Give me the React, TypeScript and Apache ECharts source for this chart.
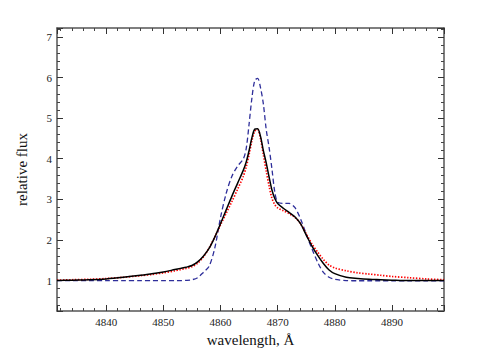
import React, { useEffect, useRef } from "react";
import * as echarts from "echarts";

const wavelengths = [
  4831.4, 4834, 4837, 4840, 4843, 4846, 4848, 4850, 4852, 4853, 4854, 4855, 4856, 4857, 4858,
  4859, 4860, 4861, 4862, 4863, 4864, 4864.5, 4865, 4865.5, 4866, 4866.5, 4867, 4867.5, 4868,
  4868.5, 4869, 4869.5, 4870, 4871, 4872, 4873, 4874, 4875, 4876, 4877, 4878, 4879, 4880, 4882,
  4884, 4886, 4888, 4890, 4893, 4896, 4899.1,
];

const observedFlux = [
  1.0, 1.01, 1.02, 1.04, 1.08, 1.13, 1.17, 1.21, 1.27, 1.3, 1.33, 1.37, 1.46, 1.6, 1.79,
  2.07, 2.4, 2.74, 3.08, 3.4, 3.72, 3.92, 4.2, 4.52, 4.73, 4.74, 4.55, 4.2, 3.9,
  3.55, 3.23, 3.02, 2.9, 2.78, 2.68, 2.57, 2.4, 2.12, 1.85, 1.62, 1.42, 1.26, 1.17, 1.08,
  1.05, 1.03, 1.02, 1.01, 1.0, 1.0, 1.0,
];

const modelRedFlux = [
  1.01, 1.02, 1.03, 1.05, 1.08, 1.12, 1.15, 1.19, 1.24, 1.27, 1.3, 1.34, 1.43, 1.58, 1.8,
  2.07, 2.37, 2.66, 2.95, 3.25, 3.57, 3.8, 4.1, 4.45, 4.68, 4.72, 4.5, 4.1, 3.7,
  3.33, 3.03, 2.87, 2.79, 2.72, 2.65, 2.56, 2.4, 2.15, 1.9, 1.7, 1.52, 1.38, 1.31, 1.24,
  1.19, 1.16, 1.13, 1.1, 1.07, 1.04, 1.02,
];

const modelBlueFlux = [
  1.0, 1.0, 1.0, 1.0, 1.0, 1.0, 1.0, 1.0, 1.0, 1.0, 1.005, 1.02, 1.07, 1.2, 1.35,
  1.8, 2.55, 3.15, 3.57, 3.82, 4.0, 4.25, 4.85, 5.5, 5.93, 5.98, 5.75, 5.35, 4.72,
  4.28, 3.75, 3.18, 2.93, 2.9, 2.9, 2.8, 2.52, 2.14, 1.78, 1.45, 1.2, 1.08, 1.03, 1.0,
  0.995, 0.995, 0.995, 0.995, 0.995, 0.995, 0.995,
];

const X_MIN = 4831.4;
const X_MAX = 4899.1;
const Y_MIN = 0.25;
const Y_MAX = 7.22;

const FONT = "Liberation Serif";

function pairs(ys: number[]) {
  return wavelengths.map((x, i) => [x, ys[i]]);
}

function xAxisCfg(main: boolean): any {
  return {
    type: "value",
    position: main ? "bottom" : "top",
    min: X_MIN,
    max: X_MAX,
    minInterval: 10,
    maxInterval: 10,
    name: main ? "wavelength, Å" : "",
    nameLocation: "middle",
    nameGap: 21,
    nameTextStyle: { fontFamily: FONT, fontSize: 15, color: "#111" },
    axisLine: { show: true, onZero: false, lineStyle: { color: "#555", width: 1.5 } },
    axisTick: { show: true, inside: true, length: 6, lineStyle: { color: "#333", width: 1 } },
    minorTick: { show: true, splitNumber: 5, length: 3, lineStyle: { color: "#444", width: 1 } },
    axisLabel: {
      show: main,
      showMinLabel: false,
      showMaxLabel: false,
      margin: 5,
      fontFamily: FONT,
      fontSize: 11,
      color: "#222",
      formatter: (v: number) => String(Math.round(v)),
    },
    splitLine: { show: false },
  };
}

function yAxisCfg(main: boolean): any {
  return {
    type: "value",
    position: main ? "left" : "right",
    min: Y_MIN,
    max: Y_MAX,
    minInterval: 1,
    maxInterval: 1,
    name: main ? "relative flux" : "",
    nameLocation: "middle",
    nameGap: 28,
    nameTextStyle: { fontFamily: FONT, fontSize: 15, color: "#111" },
    axisLine: { show: true, onZero: false, lineStyle: { color: "#555", width: 1.5 } },
    axisTick: { show: true, inside: true, length: 6, lineStyle: { color: "#333", width: 1 } },
    minorTick: { show: true, splitNumber: 5, length: 3, lineStyle: { color: "#444", width: 1 } },
    axisLabel: {
      show: main,
      showMinLabel: false,
      showMaxLabel: false,
      margin: 5,
      fontFamily: FONT,
      fontSize: 11,
      color: "#222",
      formatter: (v: number) => String(Math.round(v)),
    },
    splitLine: { show: false },
  };
}

export default function App() {
  const ref = useRef<HTMLDivElement>(null);

  useEffect(() => {
    if (!ref.current) return;
    const chart = echarts.init(ref.current, undefined, { renderer: "svg" });
    chart.setOption({
      animation: false,
      backgroundColor: "#ffffff",
      grid: { left: 57, right: 54, top: 28, bottom: 39, containLabel: false },
      xAxis: [xAxisCfg(true), xAxisCfg(false)],
      yAxis: [yAxisCfg(true), yAxisCfg(false)],
      series: [
        {
          name: "model 2",
          type: "line",
          data: pairs(modelBlueFlux),
          smooth: 0.3,
          showSymbol: false,
          lineStyle: { color: "#2e2e9a", width: 1.3, type: [5, 3] },
          z: 2,
        },
        {
          name: "model 1",
          type: "line",
          data: pairs(modelRedFlux),
          smooth: 0.3,
          showSymbol: false,
          lineStyle: { color: "#ff0000", width: 1.7, type: [1.4, 1.6] },
          z: 3,
        },
        {
          name: "observed",
          type: "line",
          data: pairs(observedFlux),
          smooth: 0.3,
          showSymbol: false,
          lineStyle: { color: "#000000", width: 1.5 },
          z: 4,
        },
      ],
    });
    return () => chart.dispose();
  }, []);

  return (
    <div
      ref={ref}
      style={{ position: "absolute", left: 0, top: 0, width: 498, height: 352 }}
    />
  );
}
